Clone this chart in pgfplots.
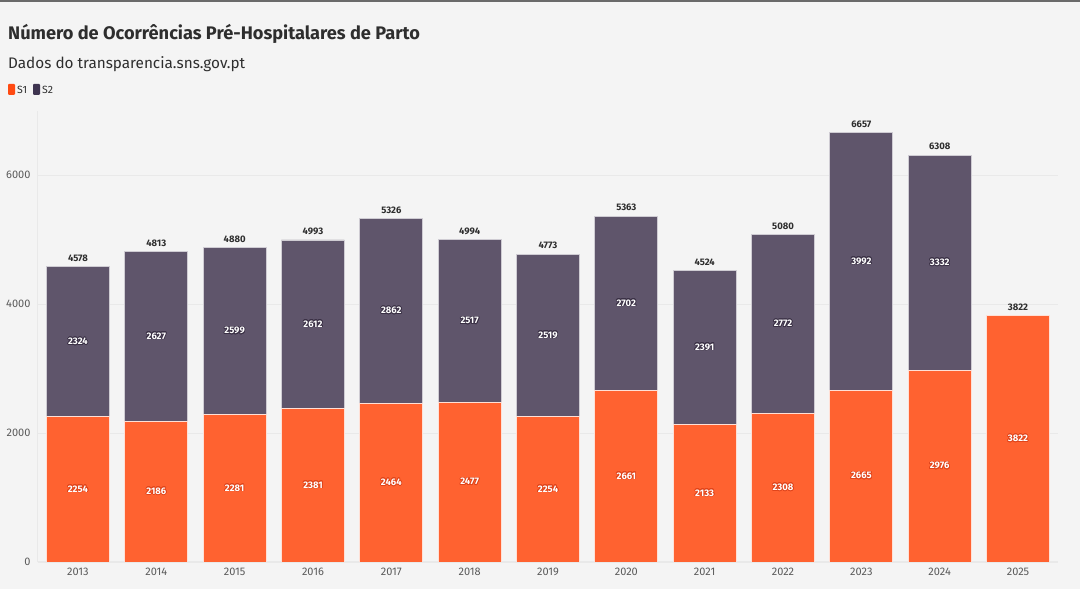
\documentclass[border=0pt]{standalone}
\usepackage{pgfplots}
\pgfplotsset{compat=1.18}
\usepackage{pgfplotstable}
\usepackage{fontspec}
\setmainfont{Fira Sans}
\usepackage{contour}
\contourlength{0.7pt}
\contournumber{16}
\definecolor{bg}{HTML}{F4F4F4}
\definecolor{s1col}{HTML}{FF6230}
\definecolor{s2col}{HTML}{5F556B}
\definecolor{s1leg}{HTML}{FF4A12}
\definecolor{s2leg}{HTML}{3E3450}
\definecolor{s1dark}{HTML}{E0441A}
\definecolor{s2dark}{HTML}{3A3045}
\definecolor{gridcol}{HTML}{E9E9E9}
\definecolor{tickcol}{HTML}{5A5A5A}
\definecolor{titlecol}{HTML}{2E2E2E}
\definecolor{topline}{HTML}{6A6A6A}

\pgfplotstableread{
idx s1 s2 total
0 2254 2324 4578
1 2186 2627 4813
2 2281 2599 4880
3 2381 2612 4993
4 2464 2862 5326
5 2477 2517 4994
6 2254 2519 4773
7 2661 2702 5363
8 2133 2391 4524
9 2308 2772 5080
10 2665 3992 6657
11 2976 3332 6308
12 3822 0 3822
}\data

\pgfplotsset{
  common/.style={
    at={(38pt,27pt)}, anchor=south west,
    scale only axis, width=1020pt, height=451.5pt,
    xmin=-0.51, xmax=12.51, ymin=0, ymax=7000,
  }
}

\begin{document}
\begin{tikzpicture}
\useasboundingbox[fill=bg] (0,0) rectangle (1080pt,589pt);
\fill[topline] (0,587pt) rectangle (1080pt,589pt);

\node[anchor=base west, inner sep=0, text=titlecol, font=\fontsize{18.2}{22}\selectfont\bfseries] at (8pt,549pt) {Número de Ocorrências Pré-Hospitalares de Parto};
\node[anchor=base west, inner sep=0, text=titlecol, font=\fontsize{15.3}{18}\selectfont] at (8pt,520pt) {Dados do transparencia.sns.gov.pt};

\fill[s1leg, rounded corners=1pt] (8pt,494pt) rectangle (15pt,505pt);
\node[anchor=base west, inner sep=0, text=titlecol, font=\fontsize{10.5}{12}\selectfont] at (17pt,495.5pt) {S1};
\fill[s2leg, rounded corners=1pt] (33pt,494pt) rectangle (40pt,505pt);
\node[anchor=base west, inner sep=0, text=titlecol, font=\fontsize{10.5}{12}\selectfont] at (42pt,495.5pt) {S2};

\begin{axis}[common,
  ybar stacked, bar width=63pt,
  axis lines*=left,
  axis line style={-, draw=gridcol, line width=1pt},
  ytick={0,2000,4000,6000},
  xtick={0,...,12},
  xticklabels={2013,2014,2015,2016,2017,2018,2019,2020,2021,2022,2023,2024,2025},
  ymajorgrids, grid style={draw=gridcol, line width=0.8pt},
  major tick length=0pt,
  tick label style={font=\fontsize{11}{13}\selectfont, text=tickcol},
  yticklabel style={xshift=-4pt},
  xticklabel style={yshift=-2.5pt},
  scaled y ticks=false,
  /pgf/number format/assume math mode=true,
  /pgf/number format/set thousands separator={},
]
\addplot[fill=s1col, draw=white!80!s1col, line width=0.8pt] table[x=idx, y=s1] {\data};
\addplot[fill=s2col, draw=white!70!s2col, line width=0.8pt] table[x=idx, y=s2] {\data};
\end{axis}

\begin{axis}[common, hide axis, clip=false,
  nodes near coords style={anchor=center, font=\fontsize{9.5}{11}\selectfont\bfseries},
]
\addplot[draw=none, mark=none, point meta=explicit symbolic,
  nodes near coords={\contour{s1dark}{\textcolor{white}{\pgfplotspointmeta}}}]
  table[x=idx, y expr=\thisrow{s1}/2, meta=s1] {\data};
\addplot[draw=none, mark=none, point meta=explicit symbolic,
  skip coords between index={12}{13},
  nodes near coords={\contour{s2dark}{\textcolor{white}{\pgfplotspointmeta}}}]
  table[x=idx, y expr=\thisrow{s1}+\thisrow{s2}/2, meta=s2] {\data};
\addplot[draw=none, mark=none, point meta=explicit symbolic,
  nodes near coords={\textcolor{titlecol}{\pgfplotspointmeta}},
  every node near coord/.append style={anchor=south, yshift=1.5pt}]
  table[x=idx, y=total, meta=total] {\data};
\end{axis}
\end{tikzpicture}
\end{document}
